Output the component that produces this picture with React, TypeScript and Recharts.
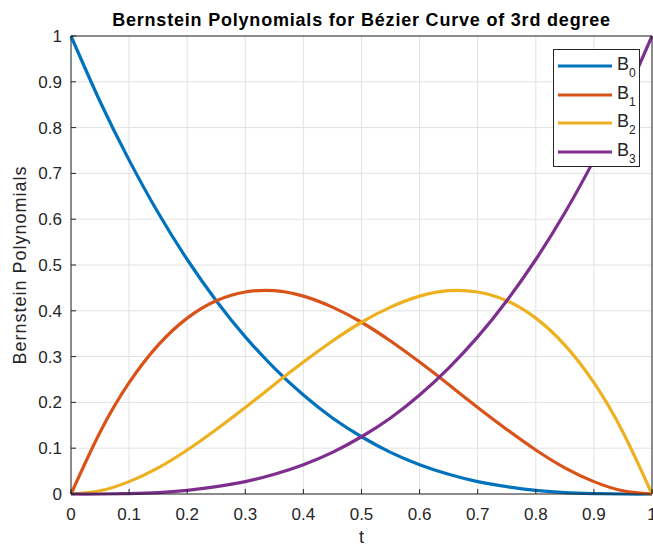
import React from 'react';
import { LineChart, Line, XAxis, YAxis, CartesianGrid, Legend } from 'recharts';

const tValues = [0, 0.05, 0.1, 0.15, 0.2, 0.25, 0.3, 0.35, 0.4, 0.45, 0.5, 0.55, 0.6, 0.65, 0.7, 0.75, 0.8, 0.85, 0.9, 0.95, 1];
const b0Values = [1, 0.857, 0.729, 0.614, 0.512, 0.422, 0.343, 0.275, 0.216, 0.166, 0.125, 0.091, 0.064, 0.043, 0.027, 0.016, 0.008, 0.003, 0.001, 0.0, 0];
const b1Values = [0, 0.135, 0.243, 0.325, 0.384, 0.422, 0.441, 0.444, 0.432, 0.408, 0.375, 0.334, 0.288, 0.239, 0.189, 0.141, 0.096, 0.057, 0.027, 0.007, 0];
const b2Values = [0, 0.007, 0.027, 0.057, 0.096, 0.141, 0.189, 0.239, 0.288, 0.334, 0.375, 0.408, 0.432, 0.444, 0.441, 0.422, 0.384, 0.325, 0.243, 0.135, 0];
const b3Values = [0, 0.0, 0.001, 0.003, 0.008, 0.016, 0.027, 0.043, 0.064, 0.091, 0.125, 0.166, 0.216, 0.275, 0.343, 0.422, 0.512, 0.614, 0.729, 0.857, 1];

const xTicks = [0, 0.1, 0.2, 0.3, 0.4, 0.5, 0.6, 0.7, 0.8, 0.9, 1];
const yTicks = [0, 0.1, 0.2, 0.3, 0.4, 0.5, 0.6, 0.7, 0.8, 0.9, 1];

const seriesKeys = ['B0', 'B1', 'B2', 'B3'];
const seriesSubs = ['0', '1', '2', '3'];
const seriesColors = ['#0072BD', '#D95319', '#EDB120', '#7E2F8E'];

const titleText = 'Bernstein Polynomials for Bézier Curve of 3rd degree';
const xLabelText = 't';
const yLabelText = 'Bernstein Polynomials';

const data = tValues.map((t, i) => ({
  t,
  B0: b0Values[i],
  B1: b1Values[i],
  B2: b2Values[i],
  B3: b3Values[i],
}));

const FONT = '"Liberation Sans", Arial, Helvetica, sans-serif';
const AXIS_COLOR = '#262626';

const renderLegend = (props: any) => {
  const payload = (props.payload || []).filter((p: any) => seriesKeys.indexOf(p.dataKey) >= 0 && p.type !== 'none');
  return (
    <div
      style={{
        width: 87,
        height: 118,
        boxSizing: 'border-box',
        border: `1px solid ${AXIS_COLOR}`,
        background: '#fff',
        position: 'relative',
        fontFamily: FONT,
        color: AXIS_COLOR,
      }}
    >
      {payload.map((p: any, i: number) => (
        <div key={p.value} style={{ position: 'absolute', left: 0, top: 16 + i * 28.7 - 14, height: 28, width: 85 }}>
          <svg width={60} height={28} style={{ position: 'absolute', left: 0, top: 0 }}>
            <line x1={4} x2={58} y1={14} y2={14} stroke={p.color} strokeWidth={3} />
          </svg>
          <span style={{ position: 'absolute', left: 63, top: 2, fontSize: 18, lineHeight: '20px' }}>
            B
            <span style={{ fontSize: 12, position: 'relative', top: 7 }}>{seriesSubs[seriesKeys.indexOf(p.dataKey)]}</span>
          </span>
        </div>
      ))}
    </div>
  );
};

export default function App() {
  return (
    <div style={{ position: 'absolute', left: 0, top: 0, width: 653, height: 547, overflow: 'hidden', background: '#fff' }}>
      <LineChart width={653} height={547} data={data} margin={{ top: 35, right: 0, bottom: 0, left: 0 }}>
        <CartesianGrid stroke="#e2e2e2" strokeWidth={1} />
        <XAxis
          dataKey="t"
          type="number"
          domain={[0, 1]}
          ticks={xTicks}
          interval={0}
          height={53}
          tickSize={-5}
          tickMargin={19}
          stroke={AXIS_COLOR}
          tick={{ fill: AXIS_COLOR, fontSize: 17, fontFamily: FONT }}
          label={{
            content: (p: any) => {
              const vb = p.viewBox;
              return (
                <text x={vb.x + vb.width / 2} y={vb.y + vb.height - 4} textAnchor="middle" fontSize={18} fontFamily={FONT} fill={AXIS_COLOR}>
                  {xLabelText}
                </text>
              );
            },
          }}
        />
        <XAxis
          xAxisId="top"
          orientation="top"
          dataKey="t"
          type="number"
          domain={[0, 1]}
          ticks={xTicks}
          interval={0}
          height={1}
          tickSize={-5}
          tick={false}
          stroke={AXIS_COLOR}
          label={{
            content: (p: any) => {
              const vb = p.viewBox;
              return (
                <text x={vb.x + vb.width / 2} y={vb.y - 9} textAnchor="middle" fontSize={18} fontWeight="bold" letterSpacing={0.8} fontFamily={FONT} fill="#000">
                  {titleText}
                </text>
              );
            },
          }}
        />
        <YAxis
          type="number"
          domain={[0, 1]}
          ticks={yTicks}
          interval={0}
          width={71}
          tickSize={-5}
          tickMargin={14}
          stroke={AXIS_COLOR}
          tick={{ fill: AXIS_COLOR, fontSize: 17, fontFamily: FONT }}
          label={{
            content: (p: any) => {
              const vb = p.viewBox;
              const cx = 20;
              const cy = vb.y + vb.height / 2;
              return (
                <text x={cx} y={cy} transform={`rotate(-90 ${cx} ${cy})`} textAnchor="middle" dominantBaseline="central" fontSize={18} letterSpacing={1} fontFamily={FONT} fill={AXIS_COLOR}>
                  {yLabelText}
                </text>
              );
            },
          }}
        />
        <YAxis
          yAxisId="right"
          orientation="right"
          type="number"
          domain={[0, 1]}
          ticks={yTicks}
          interval={0}
          width={1}
          tickSize={-5}
          tick={false}
          stroke={AXIS_COLOR}
        />
        {/* invisible series that only activates the top and right frame axes */}
        <Line
          xAxisId="top"
          yAxisId="right"
          dataKey="B3"
          stroke="none"
          dot={false}
          activeDot={false}
          legendType="none"
          isAnimationActive={false}
        />
        {seriesKeys.map((k, i) => (
          <Line
            key={k}
            type="natural"
            dataKey={k}
            name={k}
            stroke={seriesColors[i]}
            strokeWidth={3.2}
            dot={false}
            activeDot={false}
            isAnimationActive={false}
          />
        ))}
        <Legend
          layout="vertical"
          align="center"
          verticalAlign="middle"
          content={renderLegend}
          wrapperStyle={{ position: 'absolute', left: 553, top: 49, width: 87, height: 118 }}
        />
      </LineChart>
    </div>
  );
}
